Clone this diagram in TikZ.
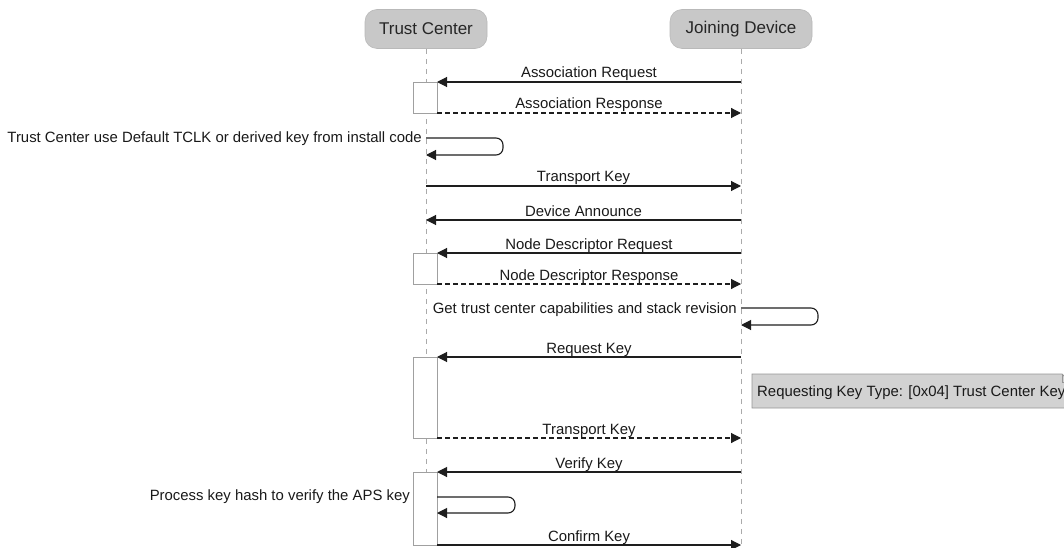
\documentclass[tikz,border=0pt]{standalone}
\usepackage{fontspec}
\setmainfont{Liberation Sans}
\usetikzlibrary{arrows.meta,calc}
\definecolor{partfill}{RGB}{200,200,200}
\definecolor{partdraw}{RGB}{185,185,185}
\definecolor{lifec}{RGB}{170,170,170}
\definecolor{actdraw}{RGB}{160,160,160}
\definecolor{notefill}{RGB}{210,210,210}
\definecolor{notedraw}{RGB}{150,150,150}
\definecolor{msgc}{RGB}{30,30,30}
\tikzset{
  part/.style={rounded corners=12pt, fill=partfill, draw=partdraw, line width=0.6pt,
    minimum height=39pt, inner sep=0pt, font=\fontsize{17}{20}\selectfont, text=black!85},
  lifeline/.style={draw=lifec, dash pattern=on 5pt off 5pt, line width=0.8pt},
  actbox/.style={fill=white, draw=actdraw, line width=0.9pt},
  msg/.style={draw=msgc, line width=1.1pt, -{Triangle[length=10pt,width=10pt]}},
  reply/.style={msg, dash pattern=on 5pt off 3pt},
  lbl/.style={font=\fontsize{14.9}{17}\selectfont, text=black!90, inner sep=0pt, anchor=base},
  selflbl/.style={font=\fontsize{14.9}{17}\selectfont, text=black!90, inner sep=0pt, anchor=base east},
  selfloop/.style={msg, rounded corners=7pt},
}
\begin{document}
\begin{tikzpicture}[x=1pt,y=-1pt]
\useasboundingbox (0,0) rectangle (1064,548);
\clip (0,0) rectangle (1064,548);
% participants
\node[part, minimum width=122pt] (tc) at (426,29) {Trust Center};
\node[part, minimum width=142pt] (jd) at (741,29) {Joining Device};
\coordinate (tcend) at (426,548);
\coordinate (jdend) at (741,548);
\draw[lifeline] (tc.south) -- (tcend);
\draw[lifeline] (jd.south) -- (jdend);
% columns
\coordinate (TC) at (426,0);
\coordinate (TA) at (437,0);
\coordinate (JD) at (741,0);
% activation boxes
\draw[actbox] (413,82) rectangle (437,113);
\draw[actbox] (413,253) rectangle (437,284);
\draw[actbox] (413,357) rectangle (437,438);
\draw[actbox] (413,472) rectangle (437,545);
% messages
\draw[msg] (JD |- 0,82) -- (TA |- 0,82);
\node[lbl] (m1) at (589,78) {Association Request};
\draw[reply] (TA |- 0,113) -- (JD |- 0,113);
\node[lbl] (m2) at (589,109) {Association Response};
\draw[selfloop] (TC |- 0,138) -- (503,138) -- (503,155) -- (TC |- 0,155);
\node[selflbl] (m3) at (422,143) {Trust Center use Default TCLK or derived key from install code};
\draw[msg] (TC |- 0,186) -- (JD |- 0,186);
\node[lbl] (m4) at (583.5,182) {Transport Key};
\draw[msg] (JD |- 0,220) -- (TC |- 0,220);
\node[lbl] (m5) at (583.5,216) {Device Announce};
\draw[msg] (JD |- 0,253) -- (TA |- 0,253);
\node[lbl] (m6) at (589,249) {Node Descriptor Request};
\draw[reply] (TA |- 0,284) -- (JD |- 0,284);
\node[lbl] (m7) at (589,280) {Node Descriptor Response};
\draw[selfloop] (JD |- 0,308) -- (818,308) -- (818,325) -- (JD |- 0,325);
\node[selflbl] (m8) at (737,313) {Get trust center capabilities and stack revision};
\draw[msg] (JD |- 0,357) -- (TA |- 0,357);
\node[lbl] (m9) at (589,353) {Request Key};
% note
\draw[fill=notefill, draw=notedraw, line width=0.8pt]
  (752,374) -- (1062,374) -- (1070,382) -- (1070,408) -- (752,408) -- cycle;
\draw[draw=notedraw, line width=0.6pt] (1062,374) -- (1062,382) -- (1070,382);
\node[font=\fontsize{14.9}{17}\selectfont, text=black!90, inner sep=0pt, anchor=base west] (note) at (757,396) {Requesting Key Type: [0x04] Trust Center Key};
\draw[reply] (TA |- 0,438) -- (JD |- 0,438);
\node[lbl] (m10) at (589,434) {Transport Key};
\draw[msg] (JD |- 0,472) -- (TA |- 0,472);
\node[lbl] (m11) at (589,468) {Verify Key};
\draw[selfloop] (TA |- 0,497) -- (515,497) -- (515,513) -- (TA |- 0,513);
\node[selflbl] (m12) at (410,500) {Process key hash to verify the APS key};
\draw[msg] (TA |- 0,545) -- (JD |- 0,545);
\node[lbl] (m13) at (589,541) {Confirm Key};
\end{tikzpicture}
\end{document}
